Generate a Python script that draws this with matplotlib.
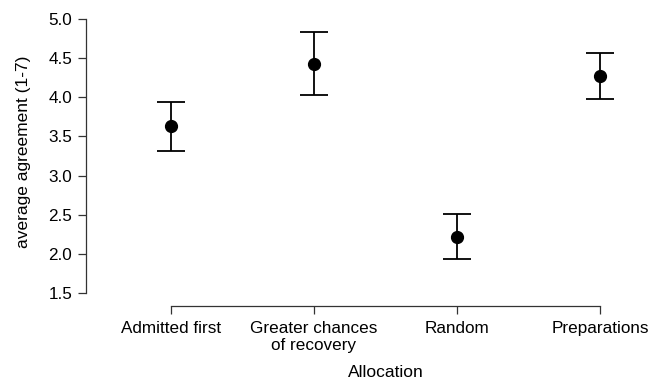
import matplotlib
matplotlib.use("Agg")
import matplotlib.pyplot as plt
import numpy as np

plt.rcParams['font.family'] = ['Liberation Sans', 'DejaVu Sans']

# values
categories = ['Admitted first', 'Greater chances\nof recovery', 'Random', 'Preparations']
means = [3.63, 4.43, 2.22, 4.27]
lower = [3.32, 4.03, 1.94, 3.98]
upper = [3.94, 4.83, 2.51, 4.57]
y_ticks = [1.5, 2.0, 2.5, 3.0, 3.5, 4.0, 4.5, 5.0]

fig = plt.figure(figsize=(6.52, 3.79), dpi=100)
ax = fig.add_axes([86 / 652, 1 - 306 / 379, (643 - 86) / 652, (306 - 15) / 379])

x = np.arange(len(categories))
means_arr = np.array(means)
yerr = [means_arr - np.array(lower), np.array(upper) - means_arr]
ax.errorbar(x, means, yerr=yerr, fmt='o', color='black', ms=8.5,
            elinewidth=1.3, capsize=10, capthick=1.3)

ax.set_xlim(-0.594, 3.3)
ax.set_ylim(1.335, 5.05)
ax.set_xticks(x)
ax.set_xticklabels(categories, fontsize=12.3, linespacing=1.15)
ax.set_yticks(y_ticks)
ax.set_yticklabels([f'{v:.1f}' for v in y_ticks], fontsize=12.3)

for s in ['top', 'right']:
    ax.spines[s].set_visible(False)
ax.spines['left'].set_bounds(1.5, 5.0)
ax.spines['bottom'].set_bounds(0, 3)
for s in ['left', 'bottom']:
    ax.spines[s].set_color('#333333')
    ax.spines[s].set_linewidth(0.9)
ax.tick_params(direction='out', length=6, width=0.9, color='#333333', pad=4)
ax.tick_params(axis='x', pad=5)

ax.set_ylabel('average agreement (1-7)', fontsize=12.5, va='center')
ax.yaxis.set_label_coords(-0.113, 0.531)
ax.set_xlabel('Allocation', fontsize=12.5, va='center')
ax.xaxis.set_label_coords((385.5 - 86) / 557, -0.227)

fig.savefig('out.png', dpi=100)
